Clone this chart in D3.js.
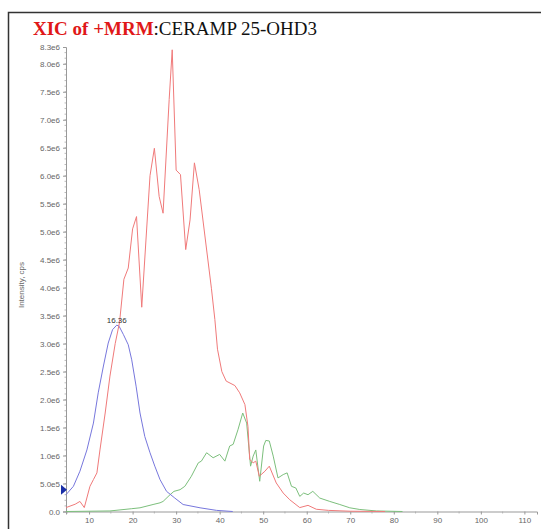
<!DOCTYPE html>
<html>
<head>
<meta charset="utf-8">
<script src="https://cdn.jsdelivr.net/npm/d3@7"></script>
<style>
  body { margin: 0; background: #fff; }
  svg { display: block; }
</style>
</head>
<body>
<svg id="chart" width="541" height="529"></svg>
<script>
// retention times (min) and intensities (cps)
const redTime = [4.7, 6.8, 7.9, 8.9, 10.2, 11.0, 11.8, 12.5, 13.7, 14.8, 16.0, 17.0, 18.0, 19.0, 20.0, 20.9,
  22.1, 24.0, 25.0, 26.1, 27.0, 28.4, 29.1, 30.0, 31.0, 32.2, 33.2, 34.2, 35.3, 38.1, 38.9, 39.5, 40.5,
  41.5, 43.5, 44.6, 45.8, 46.5, 46.9, 47.7, 48.3, 49.1, 50.4, 51.4, 53.0, 54.6, 56.1, 58.4, 60.3, 62.2,
  65.0, 70.0, 78.0];
const redValues = [0.07e6, 0.13e6, 0.18e6, 0.07e6, 0.45e6, 0.57e6, 0.69e6, 1.10e6, 1.76e6, 2.42e6, 3.00e6,
  3.38e6, 4.15e6, 4.35e6, 5.05e6, 5.27e6, 3.65e6, 6.00e6, 6.49e6, 5.63e6, 5.33e6, 7.36e6, 8.25e6, 6.10e6,
  6.02e6, 4.68e6, 5.21e6, 6.23e6, 5.75e6, 3.99e6, 3.43e6, 2.90e6, 2.50e6, 2.33e6, 2.25e6, 2.12e6, 1.91e6,
  1.52e6, 0.93e6, 0.87e6, 0.90e6, 0.63e6, 0.72e6, 0.81e6, 0.51e6, 0.33e6, 0.21e6, 0.07e6, 0.11e6, 0.04e6,
  0.02e6, 0.005e6, 0];

const blueTime = [4.7, 6.4, 7.9, 9.5, 11.0, 12.1, 13.3, 14.4, 15.4, 16.36, 16.9, 17.9, 19.0, 19.8, 20.8,
  21.7, 22.8, 24.0, 25.1, 26.3, 27.8, 29.7, 31.6, 35.5, 39.3, 43.0];
const blueValues = [0.30e6, 0.45e6, 0.72e6, 1.10e6, 1.58e6, 2.12e6, 2.60e6, 3.01e6, 3.25e6, 3.33e6, 3.31e6,
  3.16e6, 2.98e6, 2.71e6, 2.24e6, 1.76e6, 1.34e6, 1.05e6, 0.81e6, 0.57e6, 0.36e6, 0.24e6, 0.125e6, 0.066e6,
  0.02e6, 0];

const greenTime = [4.7, 14.8, 19.8, 21.7, 24.7, 26.3, 27.0, 28.6, 29.5, 30.9, 32.0, 33.5, 35.1, 35.8, 37.0,
  38.5, 40.0, 41.2, 42.3, 43.1, 44.2, 45.3, 46.2, 47.1, 47.7, 48.3, 49.2, 50.1, 50.6, 51.4, 52.3, 53.4,
  54.6, 55.5, 56.5, 57.5, 58.4, 59.3, 60.3, 61.4, 63.0, 65.3, 67.6, 69.9, 72.2, 76.0, 82.0];
const greenValues = [0, 0.01e6, 0.05e6, 0.066e6, 0.125e6, 0.155e6, 0.18e6, 0.30e6, 0.36e6, 0.39e6, 0.45e6,
  0.63e6, 0.87e6, 0.90e6, 1.05e6, 0.96e6, 1.02e6, 0.90e6, 1.17e6, 1.20e6, 1.46e6, 1.76e6, 1.58e6, 0.81e6,
  0.99e6, 1.10e6, 0.54e6, 1.17e6, 1.27e6, 1.26e6, 0.99e6, 0.60e6, 0.66e6, 0.69e6, 0.45e6, 0.42e6, 0.27e6,
  0.33e6, 0.30e6, 0.36e6, 0.24e6, 0.18e6, 0.125e6, 0.066e6, 0.036e6, 0.01e6, 0];

const xTicks = [10, 20, 30, 40, 50, 60, 70, 80, 90, 100, 110];
const yTicks = [0, 0.5e6, 1.0e6, 1.5e6, 2.0e6, 2.5e6, 3.0e6, 3.5e6, 4.0e6, 4.5e6, 5.0e6, 5.5e6, 6.0e6,
  6.5e6, 7.0e6, 7.5e6, 8.0e6, 8.3e6];
const peakLabel = { time: 16.36, value: 3.33e6, text: "16.36" };
const markerLevel = 0.39e6;

const svg = d3.select("#chart");

const x = d3.scaleLinear().domain([4.7, 112.9]).range([66, 537]);
const y = d3.scaleLinear().domain([0, 8.3e6]).range([511.5, 47]);

// frame (only top and left edges show in the crop)
svg.append("path")
  .attr("d", "M8.5,529 V12.5 H541")
  .attr("fill", "none")
  .attr("stroke", "#333")
  .attr("stroke-width", 1.5);

// title
const title = svg.append("text")
  .attr("x", 33)
  .attr("y", 35)
  .attr("font-family", "Liberation Serif, Times New Roman, serif")
  .attr("font-size", 19);
title.append("tspan").attr("fill", "#e01818").attr("font-weight", "bold").text("XIC of +MRM");
title.append("tspan").attr("fill", "#111").text(":CERAMP 25-OHD3");

const fmt = v => {
  if (v === 0) return "0.0";
  return d3.format(".1e")(v).replace("e+", "e");
};

// y axis
const yAxis = d3.axisLeft(y).tickValues(yTicks).tickFormat(fmt).tickSize(3).tickPadding(3);
const gy = svg.append("g").attr("transform", "translate(66,0)").call(yAxis);
gy.select(".domain").attr("stroke", "#999");
gy.selectAll(".tick line").attr("stroke", "#999");
gy.selectAll(".tick text").attr("fill", "#666")
  .attr("font-family", "Liberation Sans, Arial, sans-serif").attr("font-size", 8);

// y minor ticks
const yMinor = d3.range(0, 8.3e6, 1e5);
svg.append("g").selectAll("line").data(yMinor).join("line")
  .attr("x1", 64.5).attr("x2", 66)
  .attr("y1", d => y(d)).attr("y2", d => y(d))
  .attr("stroke", "#aaa").attr("stroke-width", 0.8);

// x axis
const xAxis = d3.axisBottom(x).tickValues(xTicks).tickSize(3).tickPadding(3);
const gx = svg.append("g").attr("transform", "translate(0,511.5)").call(xAxis);
gx.select(".domain").attr("stroke", "#999");
gx.selectAll(".tick line").attr("stroke", "#999");
gx.selectAll(".tick text").attr("fill", "#666")
  .attr("font-family", "Liberation Sans, Arial, sans-serif").attr("font-size", 8);

const xMinor = d3.range(5, 113, 5).filter(d => d % 10 !== 0);
svg.append("g").selectAll("line").data(xMinor).join("line")
  .attr("x1", d => x(d)).attr("x2", d => x(d))
  .attr("y1", 511.5).attr("y2", 513.5)
  .attr("stroke", "#aaa").attr("stroke-width", 0.8);

// axis titles
svg.append("text")
  .attr("transform", "translate(24,285) rotate(-90)")
  .attr("text-anchor", "middle")
  .attr("font-family", "Liberation Sans, Arial, sans-serif")
  .attr("font-size", 8)
  .attr("fill", "#666")
  .text("Intensity, cps");

// x title sits mostly below the crop, as in the source screenshot
svg.append("text")
  .attr("x", 450)
  .attr("y", 534)
  .attr("text-anchor", "middle")
  .attr("font-family", "Liberation Sans, Arial, sans-serif")
  .attr("font-size", 8)
  .attr("fill", "#666")
  .text("Time, min");

// traces
const line = d3.line().x(d => x(d[0])).y(d => y(d[1]));
const traces = [
  { t: greenTime, v: greenValues, color: "#7cbf7c" },
  { t: blueTime, v: blueValues, color: "#7777dd" },
  { t: redTime, v: redValues, color: "#f07a7a" }
];
svg.append("g").selectAll("path").data(traces).join("path")
  .attr("d", d => line(d3.zip(d.t, d.v)))
  .attr("fill", "none")
  .attr("stroke", d => d.color)
  .attr("stroke-width", 1)
  .attr("stroke-linejoin", "round");

// peak label
svg.append("text")
  .attr("x", x(peakLabel.time))
  .attr("y", y(peakLabel.value) - 2)
  .attr("text-anchor", "middle")
  .attr("font-family", "Liberation Sans, Arial, sans-serif")
  .attr("font-size", 8)
  .attr("fill", "#333")
  .text(peakLabel.text);

// threshold marker on the y axis
const my = y(markerLevel);
svg.append("path")
  .attr("d", `M61,${my - 5} L67,${my} L61,${my + 5} Z`)
  .attr("fill", "#1a2fa8");
</script>
</body>
</html>
